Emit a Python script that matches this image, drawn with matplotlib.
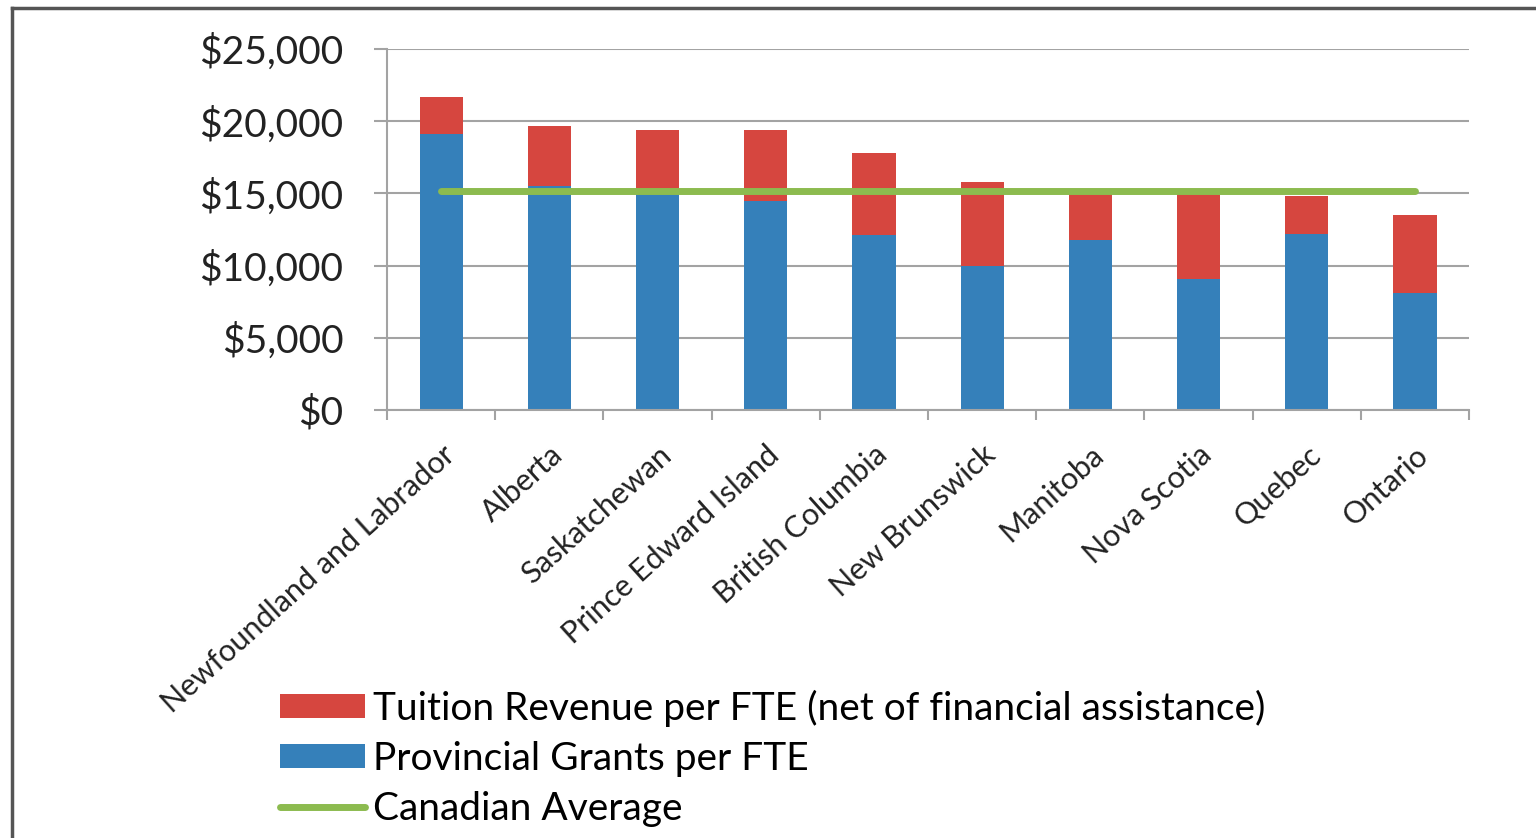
import numpy as np
import matplotlib
matplotlib.use("Agg")
import matplotlib.pyplot as plt
from matplotlib.lines import Line2D
from matplotlib.ticker import FuncFormatter

provinces = ["Newfoundland and Labrador", "Alberta", "Saskatchewan",
             "Prince Edward Island", "British Columbia", "New Brunswick",
             "Manitoba", "Nova Scotia", "Quebec", "Ontario"]
grants = [19100, 15500, 15100, 14500, 12100, 10000, 11800, 9100, 12200, 8100]
totals = [21700, 19700, 19400, 19400, 17800, 15800, 15000, 15000, 14800, 13500]
canadian_avg = [15200] * 10

tuition = [t - g for t, g in zip(totals, grants)]

plt.rcParams['font.family'] = ['Lato', 'DejaVu Sans']

fig = plt.figure(figsize=(15.36, 8.38), dpi=100)
ax = fig.add_axes([0.252, 0.5107, 0.7044, 0.4308])

x = np.arange(len(provinces))
red = '#d6463f'
blue = '#3580ba'
green = '#8cbb4f'
grid = '#a3a3a3'

b1 = ax.bar(x, grants, width=0.4, color=blue, zorder=2)
b2 = ax.bar(x, tuition, bottom=grants, width=0.4, color=red, zorder=2)
ln, = ax.plot(x, canadian_avg, color=green, lw=5, solid_capstyle='round', zorder=3)

ax.set_xlim(-0.5, len(provinces) - 0.5)
ax.set_ylim(0, 25000)
ax.set_yticks(np.arange(0, 25001, 5000))
ax.yaxis.set_major_formatter(FuncFormatter(lambda v, p: '${:,.0f}'.format(v)))
ax.grid(axis='y', color=grid, lw=1.5, zorder=0)

# category labels at bar centres, tick marks at category boundaries
ax.set_xticks(x)
ax.set_xticklabels(provinces, rotation=42, ha='right', va='top',
                   rotation_mode='anchor', fontsize=22, color='#222222')
ax.tick_params(axis='x', length=0, pad=22)
ax.set_xticks(np.arange(-0.5, len(provinces)), minor=True)
ax.tick_params(axis='x', which='minor', length=7, width=1.5, color=grid)
ax.tick_params(axis='y', length=9.5, width=1.5, color=grid, labelsize=28,
               labelcolor='#222222', pad=22)

for s in ['top', 'right']:
    ax.spines[s].set_visible(False)
ax.spines['left'].set_color(grid)
ax.spines['left'].set_linewidth(1.5)
ax.spines['bottom'].set_color(grid)
ax.spines['bottom'].set_linewidth(1.5)

# chart frame (cropped on right and bottom)
fig.add_artist(Line2D([0.0078, 0.0078], [0.0, 0.991], transform=fig.transFigure,
                      color='#555555', lw=2.5))
fig.add_artist(Line2D([0.0078, 1.0], [0.991, 0.991], transform=fig.transFigure,
                      color='#555555', lw=2.5))

fig.legend([b2, b1, ln],
           ["Tuition Revenue per FTE (net of financial assistance)",
            "Provincial Grants per FTE", "Canadian Average"],
           loc='upper left', bbox_to_anchor=(0.182, 0.177), frameon=False,
           fontsize=28, handlelength=2.2, handleheight=0.6, handletextpad=0.2,
           labelspacing=0.36, borderpad=0, borderaxespad=0)

fig.savefig('out.png', dpi=100)
